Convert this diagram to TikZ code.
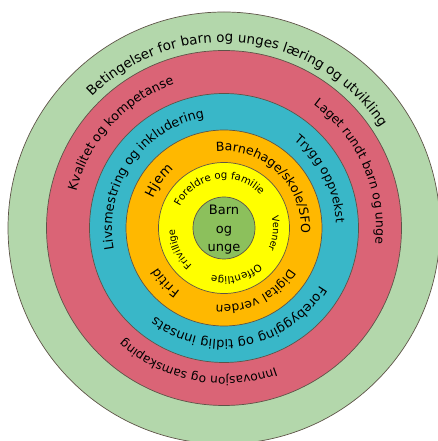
\documentclass[tikz,border=0pt]{standalone}
\usepackage{fontspec}
\setmainfont{DejaVu Sans}
\usetikzlibrary{decorations.text,calc}
\definecolor{ringouter}{HTML}{B3D7AB}
\definecolor{ringred}{HTML}{DA6476}
\definecolor{ringblue}{HTML}{39B7C8}
\definecolor{ringorange}{HTML}{FFB800}
\definecolor{ringyellow}{HTML}{FFFF00}
\definecolor{ringcore}{HTML}{8CC05C}
\definecolor{ringedge}{HTML}{5E5448}
\newcommand\RingLabel[4]{%
  \path[decorate,decoration={text along path,text align=center,
    text={|\fontsize{#3}{#3}\selectfont|#4}}]
    ($(C)+({#2+150}:#1)$) arc[start angle={#2+150}, end angle={#2-150}, radius=#1];}
\begin{document}
\begin{tikzpicture}[x=1pt,y=1pt,
  ring/.style={draw=ringedge,line width=0.7pt},
  coretext/.style={font=\fontsize{13}{18.5}\selectfont,align=center,text=black}]
\useasboundingbox (0,0) rectangle (438,441);
\coordinate (C) at (224,213);
\fill[ring,fill=ringouter] (C) circle[radius=216];
\fill[ring,fill=ringred] (C) circle[radius=177.5];
\fill[ring,fill=ringblue] (C) circle[radius=134.5];
\fill[ring,fill=ringorange] (C) circle[radius=98];
\fill[ring,fill=ringyellow] (C) circle[radius=65.5];
\fill[ring,fill=ringcore] (C) circle[radius=31];
\node[coretext] (core) at ($(C)+(0,-2)$) {Barn\\og\\unge};
% outer ring
\RingLabel{186}{84}{13.5}{Betingelser for barn og unges læring og utvikling}
% red ring
\RingLabel{152}{137.5}{12.7}{Kvalitet og kompetanse}
\RingLabel{152}{24}{12.4}{Laget rundt barn og unge}
\RingLabel{149}{-101}{12.2}{Innovasjon og samskaping}
% blue ring
\RingLabel{112}{145.5}{12.8}{Livsmestring og inkludering}
\RingLabel{112}{27}{12.3}{Trygg oppvekst}
\RingLabel{112}{-79.5}{13}{Forebygging og tidlig innsats}
% orange ring
\RingLabel{77}{144}{13.5}{Hjem}
\RingLabel{77}{46}{12.5}{Barnehage/skole/SFO}
\RingLabel{77}{-64}{12.2}{Digital verden}
\RingLabel{77}{-137}{12.8}{Fritid}
% yellow ring
\RingLabel{49}{98}{10.2}{Foreldre og familie}
\RingLabel{49}{-6}{9.5}{Venner}
\RingLabel{49}{-75}{10.2}{Offentlige}
\RingLabel{49}{-154.5}{9.8}{Frivillige}
\end{tikzpicture}
\end{document}
